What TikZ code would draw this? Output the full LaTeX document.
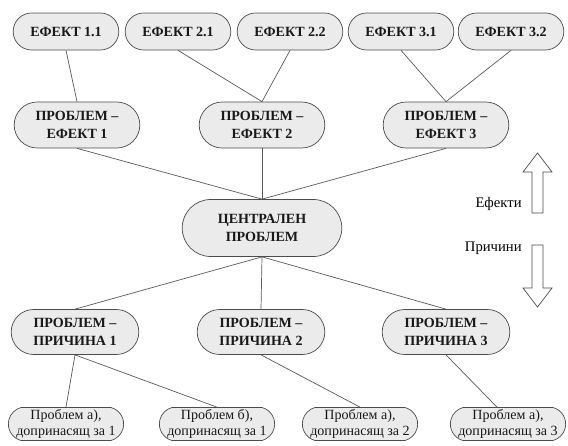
\documentclass[tikz,border=0pt]{standalone}
\usepackage{fontspec}
\setmainfont{Liberation Serif}
\usetikzlibrary{shapes.misc}

\begin{document}
\begin{tikzpicture}[
      x=0.03cm, y=-0.03cm,
      linet/.style={draw=black!65, line width=0.6pt},
      punkt/.style={rounded rectangle, draw=black!70, line width=0.6pt,
        fill=black!8, text=black!90, align=center, inner sep=1pt,
        font=\fontsize{12}{15}\selectfont\bfseries},
      efekt/.style={punkt, minimum width=108*0.03cm, minimum height=1.11cm},
      problem/.style={punkt, minimum width=128*0.03cm, minimum height=1.38cm},
      prichina/.style={punkt, minimum width=130*0.03cm, minimum height=1.35cm},
      listo/.style={punkt, minimum width=113*0.03cm, minimum height=0.99cm,
        inner xsep=0pt, rounded rectangle arc length=150,
        font=\fontsize{12}{13.5}\selectfont},
      strelka/.style={draw=black!70, line width=0.6pt, fill=white}
    ]
    \useasboundingbox (0,0) rectangle (568,445);
    % effects
    \path (66,31.5) node(e11) [efekt] {ЕФЕКТ 1.1}
    (178,31.5) node(e21) [efekt] {ЕФЕКТ 2.1}
    (290,31.5) node(e22) [efekt] {ЕФЕКТ 2.2}
    (401,31.5) node(e31) [efekt] {ЕФЕКТ 3.1}
    (511,31.5) node(e32) [efekt] {ЕФЕКТ 3.2};
    \path (77,125) node(pe1) [problem] {ПРОБЛЕМ –\\ЕФЕКТ 1}
    (262,125) node(pe2) [problem] {ПРОБЛЕМ –\\ЕФЕКТ 2}
    (446,125) node(pe3) [problem] {ПРОБЛЕМ –\\ЕФЕКТ 3};
    \path (262,228) node(c) [punkt, minimum width=162*0.03cm,
      minimum height=1.71cm] {ЦЕНТРАЛЕН\\ПРОБЛЕМ};
    % causes
    \path (75,332) node(pc1) [prichina] {ПРОБЛЕМ –\\ПРИЧИНА 1}
    (261,332) node(pc2) [prichina] {ПРОБЛЕМ –\\ПРИЧИНА 2}
    (446,332) node(pc3) [prichina] {ПРОБЛЕМ –\\ПРИЧИНА 3};
    \path (66,424) node(b1) [listo] {Проблем а),\\допринасящ за 1}
    (217,424) node(b2) [listo] {Проблем б),\\допринасящ за 1}
    (360,424) node(b3) [listo] {Проблем а),\\допринасящ за 2}
    (508,424) node(b4) [listo] {Проблем а),\\допринасящ за 3};
    \draw[linet] (e11.south) -- (pe1.north);
    \draw[linet] (e21.south) -- (pe2.north);
    \draw[linet] (e22.south) -- (pe2.north);
    \draw[linet] (e31.south) -- (pe3.north);
    \draw[linet] (e32.south) -- (pe3.north);
    \draw[linet] (pe1.south) -- (c.north);
    \draw[linet] (pe2.south) -- (c.north);
    \draw[linet] (pe3.south) -- (c.north);
    \draw[linet] (c.south) -- (pc1.north);
    \draw[linet] (c.south) -- (pc2.north);
    \draw[linet] (c.south) -- (pc3.north);
    \draw[linet] (pc1.south) -- (b1.north);
    \draw[linet] (pc1.south) -- (b2.north);
    \draw[linet] (pc2.south) -- (b3.north);
    \draw[linet] (pc3.south) -- ([xshift=-11*0.03cm]b4.north);
    % direction arrows
    \draw[strelka] (532,213) -- (532,172) -- (523,172) -- (537.5,153)
      -- (552,172) -- (543,172) -- (543,213) -- cycle;
    \draw[strelka] (532,245) -- (532,288) -- (523,288) -- (537.5,307)
      -- (552,288) -- (543,288) -- (543,245) -- cycle;
    \path (523,212) node(ef) [anchor=south east, inner sep=1pt,
      font=\fontsize{12.5}{14}\selectfont] {Ефекти}
    (523,251) node(pr) [anchor=base east, inner sep=1pt,
      font=\fontsize{12.5}{14}\selectfont] {Причини};
  \end{tikzpicture}
\end{document}
